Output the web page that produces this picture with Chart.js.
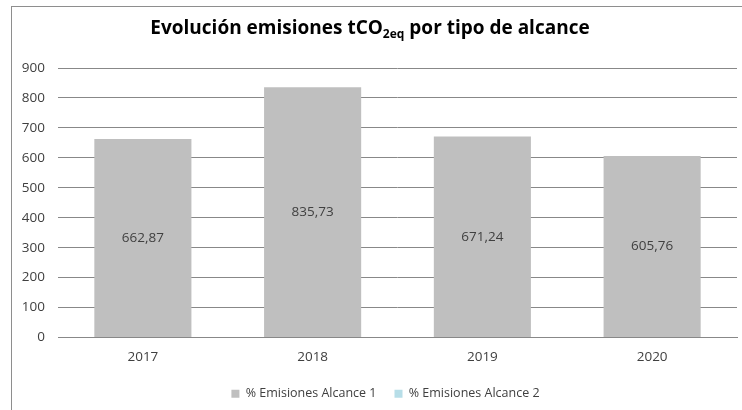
<!DOCTYPE html>
<html>
<head>
<meta charset="utf-8">
<script src="https://cdn.jsdelivr.net/npm/chart.js@4"></script>
<style>
  html, body { margin: 0; padding: 0; background: #fff; overflow: hidden; }
  #frame { position: absolute; left: 11px; top: 6px; width: 800px; height: 500px; border: 1px solid #8e8e8e; }
  #chart { position: absolute; left: 0; top: 0; }
</style>
</head>
<body>
<div id="frame"></div>
<canvas id="chart" width="742" height="410"></canvas>
<script>
const years = ['2017', '2018', '2019', '2020'];
const alcance1 = [662.87, 835.73, 671.24, 605.76];
const alcance2 = [null, null, null, null];
const seriesNames = ['% Emisiones Alcance 1', '% Emisiones Alcance 2'];
const yTicks = [0, 100, 200, 300, 400, 500, 600, 700, 800, 900];

const FONT = "'Open Sans', sans-serif";

// title with subscript, chart.js title can't do that
const titlePlugin = {
  id: 'subTitle',
  afterDraw(chart) {
    const ctx = chart.ctx;
    const parts = [
      { t: 'Evolución emisiones tCO', sub: false },
      { t: '2eq', sub: true },
      { t: ' por tipo de alcance', sub: false }
    ];
    const size = 19, subSize = 12;
    ctx.save();
    ctx.fillStyle = '#000';
    ctx.textBaseline = 'alphabetic';
    let total = 0;
    parts.forEach(p => {
      ctx.font = 'bold ' + (p.sub ? subSize : size) + 'px ' + FONT;
      p.w = ctx.measureText(p.t).width;
      total += p.w;
    });
    let x = 370 - total / 2;
    parts.forEach(p => {
      ctx.font = 'bold ' + (p.sub ? subSize : size) + 'px ' + FONT;
      ctx.fillText(p.t, x, p.sub ? 38 : 34);
      x += p.w;
    });
    ctx.restore();
  }
};

const valueLabels = {
  id: 'valueLabels',
  afterDatasetsDraw(chart) {
    const ctx = chart.ctx;
    const meta = chart.getDatasetMeta(0);
    ctx.save();
    ctx.font = '13.5px ' + FONT;
    ctx.fillStyle = '#404040';
    ctx.textAlign = 'center';
    ctx.textBaseline = 'middle';
    meta.data.forEach((bar, i) => {
      const { x, y, base } = bar.getProps(['x', 'y', 'base'], true);
      ctx.fillText(alcance1[i].toFixed(2).replace('.', ','), x, (y + base) / 2);
    });
    ctx.restore();
  }
};

// legend in the original sits a bit right of the canvas centre
const legendShift = {
  id: 'legendShift',
  afterLayout(chart) {
    if (chart.legend) chart.legend.left += 34;
  }
};

new Chart(document.getElementById('chart'), {
  type: 'bar',
  data: {
    labels: years,
    datasets: [
      { label: seriesNames[0], data: alcance1, backgroundColor: '#bfbfbf' },
      { label: seriesNames[1], data: alcance2, backgroundColor: '#b7dee8' }
    ]
  },
  options: {
    responsive: false,
    animation: false,
    layout: { padding: { top: 68, right: 5, left: 0, bottom: 0 } },
    datasets: { bar: { skipNull: true, categoryPercentage: 1, barPercentage: 0.572 } },
    scales: {
      x: {
        grid: { display: false, drawTicks: false },
        border: { display: true, color: '#888' },
        ticks: { color: '#404040', font: { family: FONT, size: 13.5, lineHeight: 1 }, padding: 13 },
        afterFit: s => { s.height = 32; }
      },
      y: {
        min: 0,
        max: 900,
        afterBuildTicks: s => { s.ticks = yTicks.map(v => ({ value: v })); },
        grid: { color: '#888', drawTicks: false },
        border: { display: false },
        ticks: { color: '#404040', font: { family: FONT, size: 13.5 }, padding: 13 },
        afterFit: s => { s.width = 58; }
      }
    },
    plugins: {
      title: { display: false },
      tooltip: { enabled: false },
      legend: {
        position: 'bottom',
        labels: {
          color: '#404040',
          font: { family: FONT, size: 12.5 },
          boxWidth: 8,
          boxHeight: 8,
          padding: 18
        }
      }
    }
  },
  plugins: [titlePlugin, valueLabels, legendShift]
});
</script>
</body>
</html>
